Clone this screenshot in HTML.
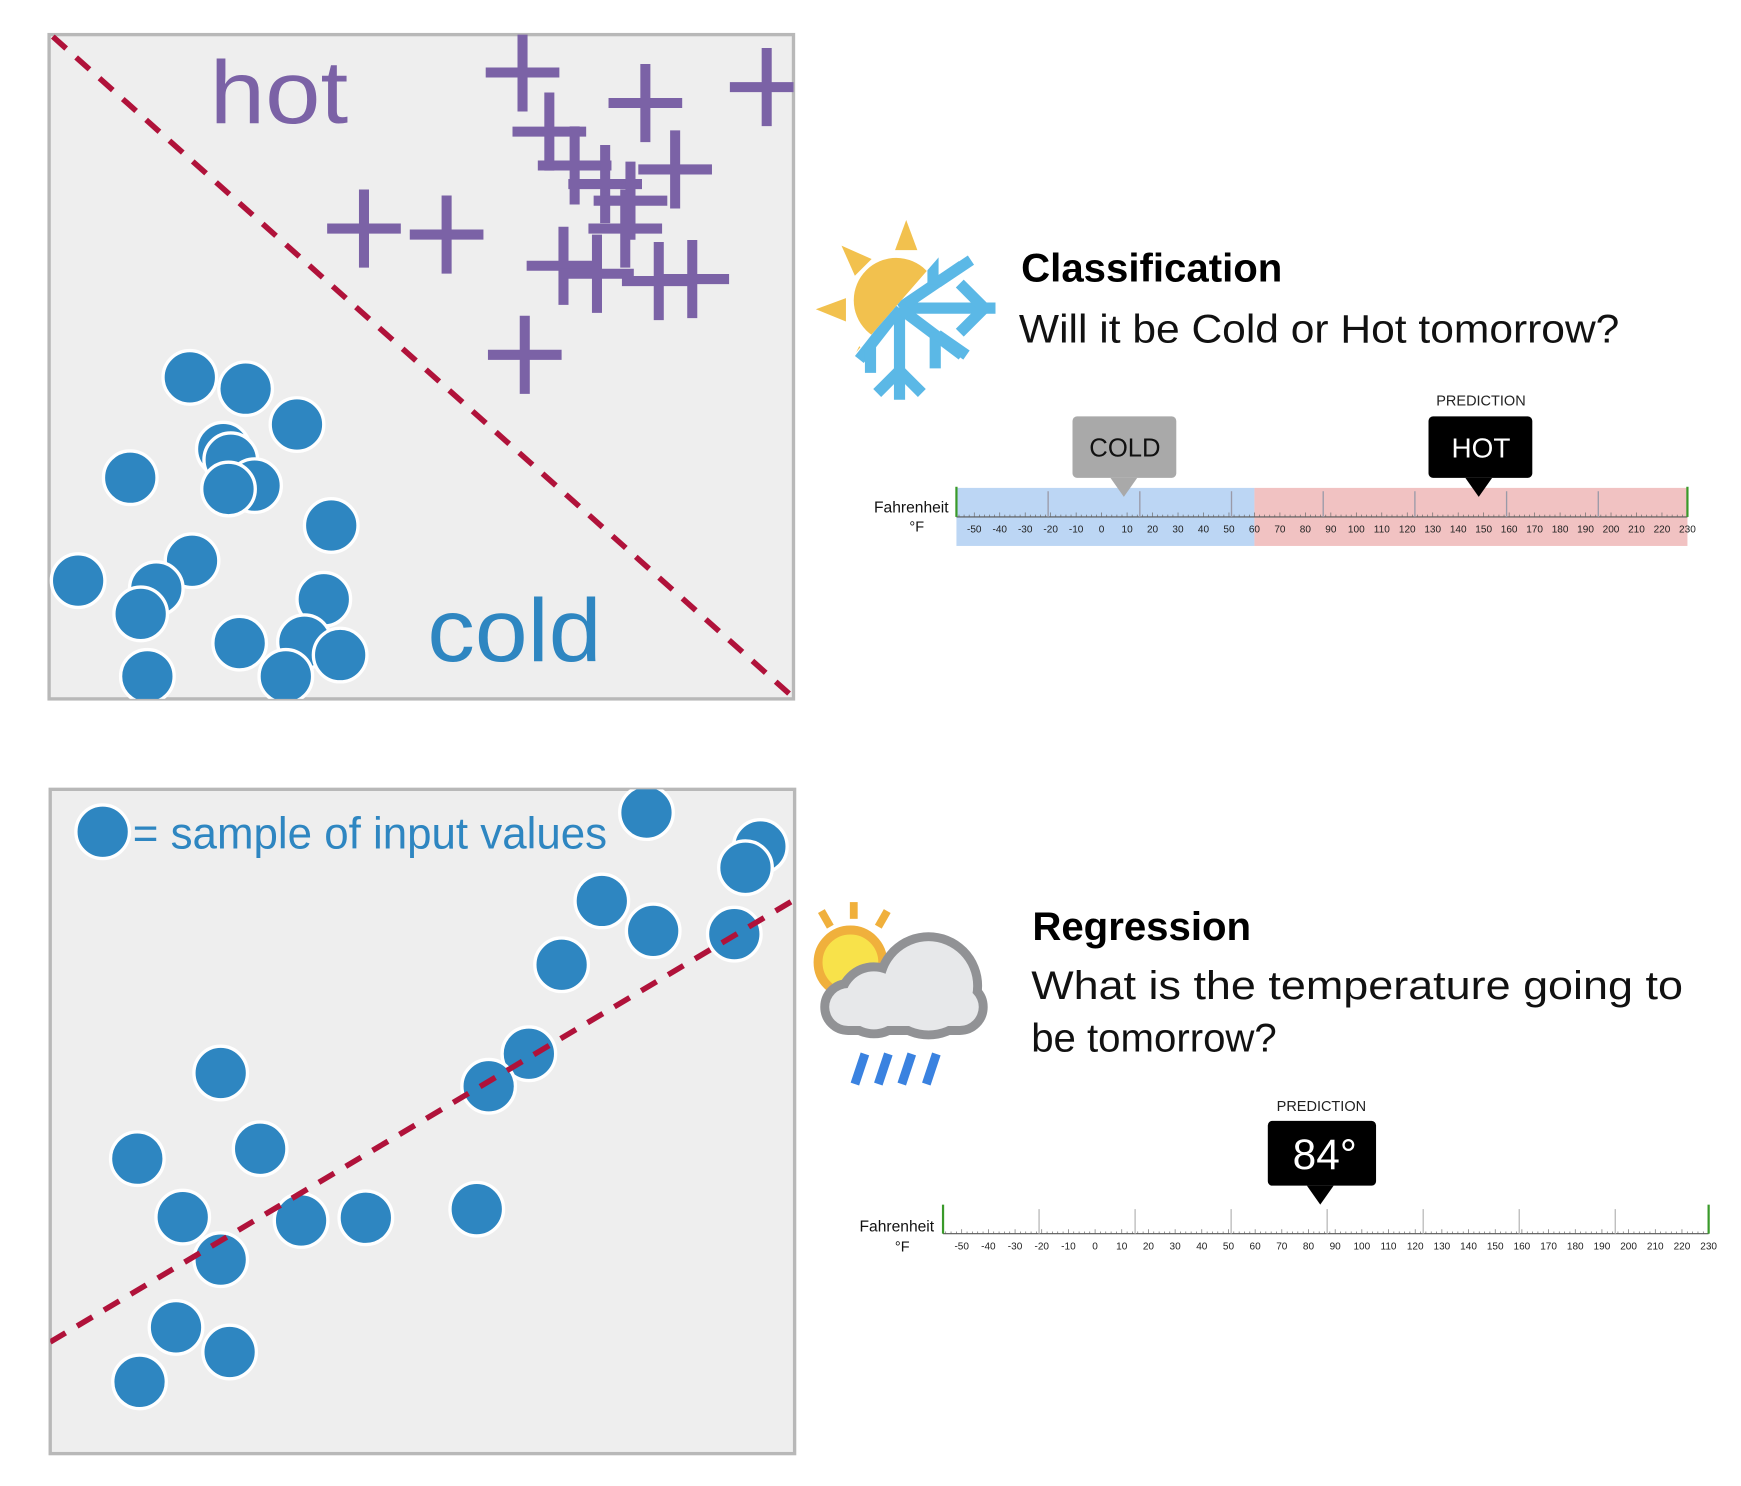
<!DOCTYPE html>
<html><head><meta charset="utf-8"><style>
html,body{margin:0;padding:0;background:#fff;}
svg{display:block;font-family:"Liberation Sans",sans-serif;}
</style></head><body>
<svg id="root" width="1741" height="1486" viewBox="0 0 1560 1331" preserveAspectRatio="none" xmlns="http://www.w3.org/2000/svg">
<defs>
<clipPath id="clipTop"><rect x="44" y="31" width="667" height="595"/></clipPath>
<clipPath id="clipBot"><rect x="45" y="707" width="667" height="595"/></clipPath>
<clipPath id="sunSide"><polygon points="700,180 885,180 751,334 700,400"/></clipPath>
<clipPath id="snowSide"><polygon points="885,180 900,180 900,380 740,380 751,334"/></clipPath>
</defs>

<g>
<rect x="44" y="31" width="667" height="595" fill="#eeeeee" stroke="#b8b8b8" stroke-width="3"/>
<g id="topMarks" clip-path="url(#clipTop)"></g>
<text x="188" y="110" font-size="80" fill="#7b62a6" textLength="124" lengthAdjust="spacingAndGlyphs">hot</text>
<text x="383" y="592" font-size="80" fill="#2e86c1" textLength="156" lengthAdjust="spacingAndGlyphs">cold</text>
</g>

<g>
<rect x="45" y="707" width="667" height="595" fill="#eeeeee" stroke="#b8b8b8" stroke-width="3"/>
<g id="botMarks" clip-path="url(#clipBot)"></g>
<circle cx="92" cy="745" r="24" fill="#2e86c1" stroke="#fff" stroke-width="3"/>
<text x="119" y="760" font-size="40" fill="#2e86c1" textLength="425" lengthAdjust="spacingAndGlyphs">= sample of input values</text>
</g>

<g>
<g clip-path="url(#sunSide)" fill="#f2c14e">
<circle cx="803" cy="269" r="38"/>
<polygon points="812,197 802,224 822,224"/>
<polygon points="731,277 758,267 758,288"/>
<polygon points="754,220 781,232 766,247"/>
<polygon points="757,335 770,310 783,325"/>
<polygon points="870,220 845,232 858,246"/>
</g>
<g clip-path="url(#snowSide)" stroke="#5bb8e6" stroke-width="10" fill="none">
<line x1="806" y1="276" x2="892" y2="276"/>
<line x1="806" y1="276" x2="806" y2="358"/>
<line x1="806" y1="276" x2="862" y2="238"/>
<line x1="806" y1="276" x2="862" y2="318"/>
<line x1="806" y1="276" x2="770" y2="322"/>
<line x1="840" y1="253" x2="870" y2="233"/>
<polyline points="860,254 882,276 860,298"/>
<polyline points="786,352 806,332 826,352"/>
<line x1="838" y1="298" x2="838" y2="330"/>
<line x1="840" y1="300" x2="866" y2="318"/>
<line x1="780" y1="308" x2="780" y2="334"/>
<line x1="836" y1="222" x2="836" y2="255"/>
</g>
</g>

<text x="915" y="252" font-size="36" font-weight="bold" fill="#000">Classification</text>
<text x="913" y="307" font-size="36" fill="#111" textLength="538" lengthAdjust="spacingAndGlyphs">Will it be Cold or Hot tomorrow?</text>

<g id="scale1"></g>
<text x="1327" y="363" font-size="13" text-anchor="middle" fill="#222">PREDICTION</text>
<g>
<rect x="961" y="373" width="93" height="55" rx="4" fill="#a9a9a9"/>
<polygon points="995,428 1019,428 1007,445" fill="#a9a9a9"/>
<text x="1008" y="409" font-size="23" text-anchor="middle" fill="#111">COLD</text>
</g>
<g>
<rect x="1280" y="373" width="93" height="55" rx="4" fill="#000"/>
<polygon points="1313,428 1337,428 1325,445" fill="#000"/>
<text x="1327" y="410" font-size="25" text-anchor="middle" fill="#fff">HOT</text>
</g>
<text x="850" y="459" font-size="14" text-anchor="end" fill="#111">Fahrenheit</text>
<text x="828" y="476" font-size="13" text-anchor="end" fill="#111">°F</text>

<g>
<g stroke="#f0b03c" stroke-width="7">
<line x1="765" y1="808" x2="765" y2="823"/>
<line x1="736" y1="816" x2="744" y2="830"/>
<line x1="795" y1="816" x2="787" y2="830"/>
</g>
<circle cx="762" cy="862" r="29" fill="#f8e24a" stroke="#f0b03c" stroke-width="8"/>
<g fill="#919295" stroke="#919295" stroke-width="16" stroke-linejoin="round">
<circle cx="832" cy="883" r="40"/><circle cx="783" cy="896" r="26"/><rect x="743" y="885" width="134" height="34" rx="17"/>
</g>
<g fill="#e7e8ea">
<circle cx="832" cy="883" r="40"/><circle cx="783" cy="896" r="26"/><rect x="743" y="885" width="134" height="34" rx="17"/>
</g>
<g stroke="#3a82e0" stroke-width="8">
<line x1="775" y1="944" x2="766" y2="971"/><line x1="796" y1="944" x2="787" y2="971"/>
<line x1="817" y1="944" x2="808" y2="971"/><line x1="839" y1="944" x2="830" y2="971"/>
</g>
</g>

<text x="925" y="842" font-size="36" font-weight="bold" fill="#000">Regression</text>
<text x="924" y="895" font-size="36" fill="#111" textLength="584" lengthAdjust="spacingAndGlyphs">What is the temperature going to</text>
<text x="924" y="942" font-size="36" fill="#111">be tomorrow?</text>

<text x="1184" y="995" font-size="13" text-anchor="middle" fill="#222">PREDICTION</text>
<g>
<rect x="1136" y="1004" width="97" height="58" rx="4" fill="#000"/>
<polygon points="1171,1062 1195,1062 1183,1079" fill="#000"/>
<text x="1187" y="1047" font-size="38" text-anchor="middle" fill="#fff">84°</text>
</g>
<g id="scale2"></g>
<text x="837" y="1103" font-size="14" text-anchor="end" fill="#111">Fahrenheit</text>
<text x="815" y="1121" font-size="13" text-anchor="end" fill="#111">°F</text>
</svg>
<script>
const hotX = [63.6,80.1,96.4,67.2,70.6,84.1,74.7,78.1,42.3,53.4,77.4,69.1,73.6,81.9,86.4,63.9];
const hotY = [94.3,89.7,92.1,85.4,80.3,79.7,77.5,75.0,70.8,69.9,70.8,65.2,64.0,62.9,63.2,51.8];
const coldX = [18.9,26.4,33.3,23.4,24.4,27.6,24.1,10.9,37.9,3.9,19.2,14.4,12.3,36.9,25.6,34.3,39.1,13.2,31.8];
const coldY = [48.4,46.7,41.3,37.6,36.0,32.1,31.6,33.3,26.1,17.8,20.8,16.6,12.8,15.0,8.4,8.6,6.6,3.4,3.4];
const boundaryX = [0.5,100];
const boundaryY = [99.7,0.2];
const sampleX = [80.1,95.4,93.4,74.1,81.0,91.9,68.7,64.3,58.9,22.9,11.7,28.2,17.8,33.7,42.4,57.3,22.9,16.9,24.1,12.0];
const sampleY = [96.5,91.4,88.2,83.2,78.7,78.2,73.6,60.2,55.3,57.3,44.4,45.9,35.6,35.1,35.5,36.8,29.2,19.0,15.3,10.8];
const fitX = [0,100];
const fitY = [16.8,83.4];
const tickLabels = [-50,-40,-30,-20,-10,0,10,20,30,40,50,60,70,80,90,100,110,120,130,140,150,160,170,180,190,200,210,220,230];
const scaleMin = -57, scaleMax = 230;
const coldMax = 60;

const NS = "http://www.w3.org/2000/svg";
function mk(tag, attrs, parent){const e=document.createElementNS(NS,tag);for(const k in attrs)e.setAttribute(k,attrs[k]);parent.appendChild(e);return e;}

function topX(v){return 44+v*6.67;} function topY(v){return 626-v*5.95;}
function botX(v){return 45+v*6.67;} function botY(v){return 1302-v*5.95;}

const tg = document.getElementById('topMarks');
const l1 = mk('line',{x1:topX(boundaryX[0]),y1:topY(boundaryY[0]),x2:topX(boundaryX[1]),y2:topY(boundaryY[1]),stroke:'#b0123a','stroke-width':5,'stroke-dasharray':'16 12'},tg);


for(let i=0;i<coldX.length;i++){
  const c=mk('circle',{cx:topX(coldX[i]),cy:topY(coldY[i]),r:24,fill:'#2e86c1',stroke:'#fff','stroke-width':3},tg);
  
  
}
for(let i=0;i<hotX.length;i++){
  const x=topX(hotX[i]),y=topY(hotY[i]);
  const p=mk('path',{d:`M${x-33},${y}H${x+33}M${x},${y-35}V${y+35}`,stroke:'#7b62a6','stroke-width':9,fill:'none'},tg);
  
  
}

const bg = document.getElementById('botMarks');
for(let i=0;i<sampleX.length;i++){
  const c=mk('circle',{cx:botX(sampleX[i]),cy:botY(sampleY[i]),r:24,fill:'#2e86c1',stroke:'#fff','stroke-width':3},bg);
  
  
}
const l2 = mk('line',{x1:botX(fitX[0]),y1:botY(fitY[0]),x2:botX(fitX[1]),y2:botY(fitY[1]),stroke:'#b0123a','stroke-width':5,'stroke-dasharray':'16 12'},bg);



function drawScale(g, x0, x1, axisY, top, bottom, colored, majorTop){
  const sx = v => x0 + (v-scaleMin)/(scaleMax-scaleMin)*(x1-x0);
  if(colored){
    const b=mk('rect',{x:sx(scaleMin),y:top,width:sx(coldMax)-sx(scaleMin),height:bottom-top,fill:'#bcd6f4'},g);
    
    
    const r=mk('rect',{x:sx(coldMax),y:top,width:sx(scaleMax)-sx(coldMax),height:bottom-top,fill:'#f1c2c2'},g);
    
    
  }
  mk('line',{x1:x0,y1:axisY,x2:x1,y2:axisY,stroke:'#555','stroke-width':1},g);
  for(let v=-56; v<=scaleMax; v+=2){
    mk('line',{x1:sx(v),y1:axisY,x2:sx(v),y2:axisY-(v%10===0?4:2),stroke:'#666','stroke-width':0.6},g);
  }
  for(let k=1;k<=7;k++){
    const v = scaleMin + k*36;
    mk('line',{x1:sx(v),y1:majorTop,x2:sx(v),y2:axisY,stroke:colored?'#9a9aa8':'#bbb','stroke-width':1.2},g);
  }
  mk('line',{x1:x0,y1:majorTop-4,x2:x0,y2:axisY,stroke:'#3a9a2a','stroke-width':2},g);
  mk('line',{x1:x1,y1:majorTop-4,x2:x1,y2:axisY,stroke:'#3a9a2a','stroke-width':2},g);
  tickLabels.forEach(v=>{
    const t=mk('text',{x:sx(v),y:axisY+14,'font-size':9,'text-anchor':'middle',fill:'#222'},g);
    t.textContent=v;
    
    
  });
}
drawScale(document.getElementById('scale1'), 857, 1512, 463, 437, 489, true, 440);
drawScale(document.getElementById('scale2'), 845, 1531, 1105, 1080, 1105, false, 1083);
</script>
</body></html>
